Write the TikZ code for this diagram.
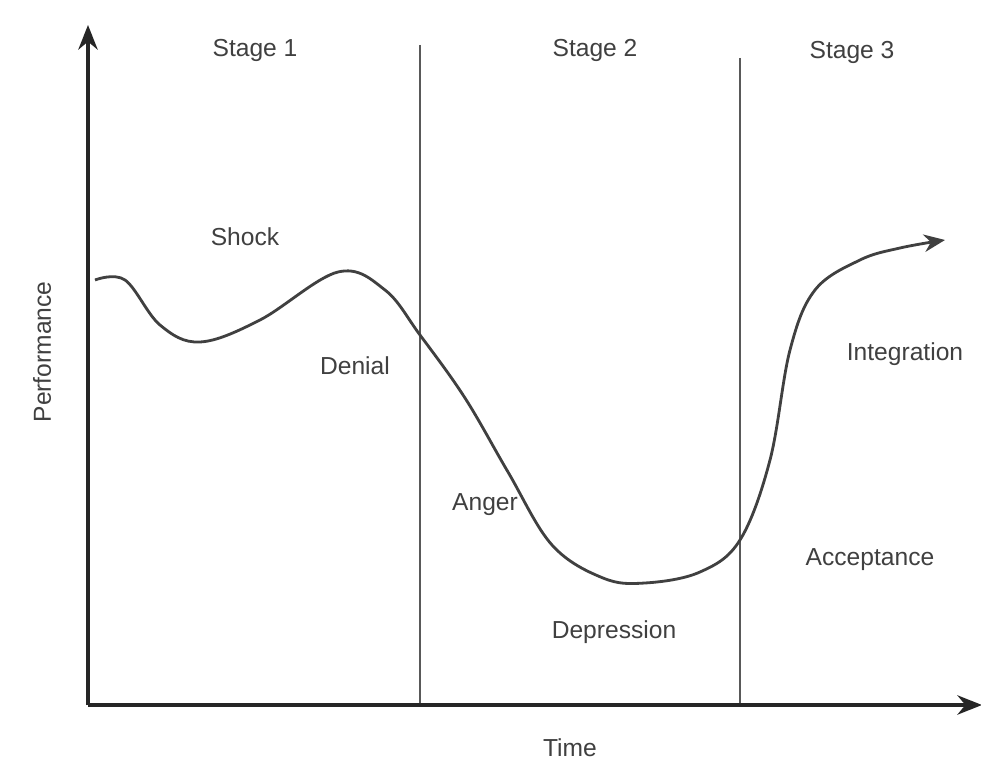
\documentclass[tikz,border=0pt]{standalone}
\usepackage{fontspec}
\setmainfont{Liberation Sans}
\usetikzlibrary{arrows.meta}
\begin{document}
\begin{tikzpicture}[x=0.02cm,y=-0.02cm,
  lbl/.style={font=\fontsize{14}{16}\selectfont,text=black!75},
  axis/.style={line width=2pt,black!85,-{Stealth[length=14pt,width=11pt]}},
  divider/.style={line width=1.2pt,black!65},
  curve/.style={line width=1.6pt,black!75,-{Stealth[length=12pt,width=10pt]}}]
\useasboundingbox (0,0) rectangle (981,763);
\fill[white] (0,0) rectangle (981,763);
\coordinate (O) at (88,705);
\coordinate (Ytop) at (88,25);
\coordinate (Xend) at (982,705);
\coordinate (d1t) at (420,45);
\coordinate (d1b) at (420,705);
\coordinate (d2t) at (740,58);
\coordinate (d2b) at (740,705);
\draw[divider] (d1t) -- (d1b);
\draw[divider] (d2t) -- (d2b);
\draw[axis] (O) -- (Ytop);
\draw[axis] (O) -- (Xend);
\node[lbl] (s1) at (255,50) {Stage 1};
\node[lbl] (s2) at (595,50) {Stage 2};
\node[lbl] (s3) at (852,52) {Stage 3};
\node[lbl] (shock) at (245,237) {Shock};
\node[lbl] (denial) at (355,366) {Denial};
\node[lbl] (anger) at (485,505) {Anger};
\node[lbl] (depr) at (614,632) {Depression};
\node[lbl] (acc) at (870,560) {Acceptance};
\node[lbl] (integ) at (905,354) {Integration};
\node[lbl] (time) at (570,748) {Time};
\node[lbl,rotate=90] (perf) at (42,352) {Performance};
\draw[curve] plot[smooth,tension=0.6] coordinates {(95,280) (125,280) (160,325) (200,342) (260,320) (338,272) (385,290) (420,335) (465,398) (508,472) (552,545) (603,578) (645,583) (700,572) (740,540) (770,460) (790,350) (815,290) (860,260) (900,248) (945,240)};
\end{tikzpicture}
\end{document}
